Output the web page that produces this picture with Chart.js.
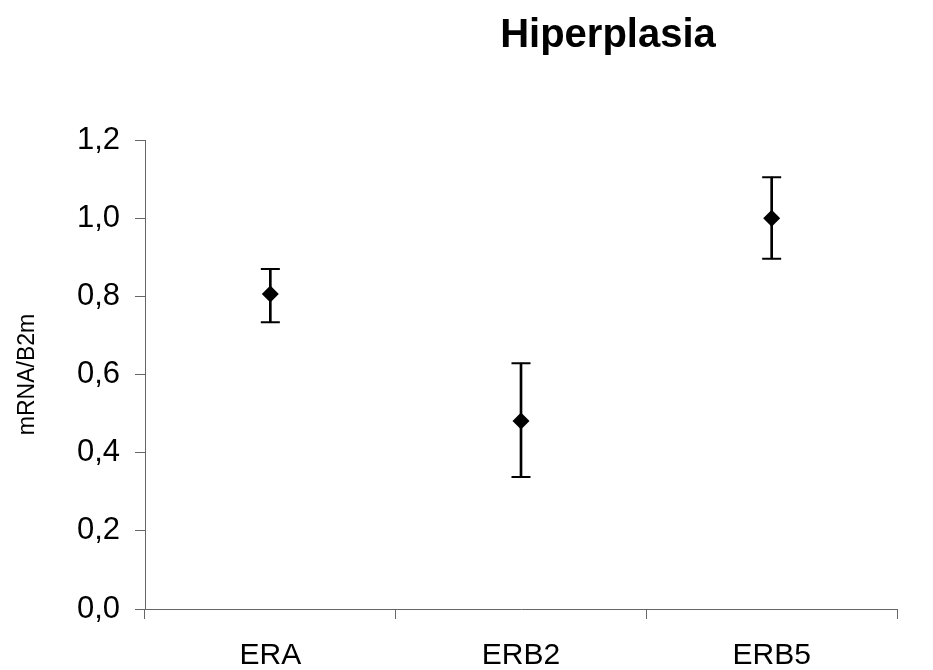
<!DOCTYPE html>
<html>
<head>
<meta charset="utf-8">
<script src="https://cdn.jsdelivr.net/npm/chart.js@4/dist/chart.umd.min.js"></script>
<style>
html,body{margin:0;padding:0;background:#fff;}
canvas{display:block;}
</style>
</head>
<body>
<canvas id="c" width="933" height="670"></canvas>
<script>
const categories = ['ERA', 'ERB2', 'ERB5'];
const means = [0.806, 0.481, 1.000];
const upper = [0.870, 0.629, 1.105];
const lower = [0.734, 0.338, 0.896];
const yTicks = [0, 0.2, 0.4, 0.6, 0.8, 1.0, 1.2];
const chartTitle = 'Hiperplasia';
const yTitle = 'mRNA/B2m';

const FONT = "'Liberation Sans', Arial, sans-serif";
const AXIS = '#666';

const titlePlugin = {
  id: 'customTitle',
  afterDraw(chart) {
    const ctx = chart.ctx;
    ctx.save();
    ctx.font = 'bold 40px ' + FONT;
    ctx.fillStyle = '#000';
    ctx.textAlign = 'center';
    ctx.textBaseline = 'alphabetic';
    ctx.fillText(chartTitle, 608, 47);
    ctx.restore();
  }
};

new Chart(document.getElementById('c'), {
  type: 'bar',
  data: {
    labels: categories,
    datasets: [
      {
        type: 'line',
        data: means,
        showLine: false,
        pointStyle: 'rectRot',
        pointRadius: 8.5,
        pointBackgroundColor: '#000',
        pointBorderColor: '#000',
        pointBorderWidth: 0,
        order: 0
      },
      {
        type: 'line',
        data: upper,
        showLine: false,
        pointStyle: 'line',
        pointRadius: 9.5,
        pointBorderColor: '#000',
        pointBorderWidth: 2,
        order: 1
      },
      {
        type: 'line',
        data: lower,
        showLine: false,
        pointStyle: 'line',
        pointRadius: 9.5,
        pointBorderColor: '#000',
        pointBorderWidth: 2,
        order: 1
      },
      {
        type: 'bar',
        data: categories.map((_, i) => [lower[i], upper[i]]),
        backgroundColor: '#000',
        borderWidth: 0,
        barThickness: 2,
        order: 2
      }
    ]
  },
  options: {
    responsive: false,
    animation: false,
    events: [],
    layout: { padding: { top: 140, right: 36, bottom: 0, left: 0 } },
    plugins: {
      legend: { display: false },
      tooltip: { enabled: false },
      title: { display: false }
    },
    scales: {
      x: {
        offset: true,
        grid: { offset: true, drawOnChartArea: false, drawTicks: true, tickLength: 10, color: AXIS, lineWidth: 1 },
        border: { display: true, color: AXIS, width: 1 },
        ticks: { color: '#000', font: { family: FONT, size: 30 }, padding: 19, maxRotation: 0 },
        afterFit(s) { s.height = 61; }
      },
      y: {
        min: 0,
        max: 1.2,
        afterBuildTicks(s) { s.ticks = yTicks.map(v => ({ value: v })); },
        grid: { drawOnChartArea: false, drawTicks: true, tickLength: 10, color: AXIS, lineWidth: 1 },
        border: { display: true, color: AXIS, width: 1 },
        ticks: {
          color: '#000',
          font: { family: FONT, size: 31 },
          padding: 15,
          callback: v => Number(v).toFixed(1).replace('.', ',')
        },
        title: {
          display: true,
          text: yTitle,
          color: '#000',
          font: { family: FONT, size: 23 },
          padding: { top: 14, bottom: 0 }
        },
        afterFit(s) { s.width = 145; }
      }
    }
  },
  plugins: [titlePlugin]
});
</script>
</body>
</html>
